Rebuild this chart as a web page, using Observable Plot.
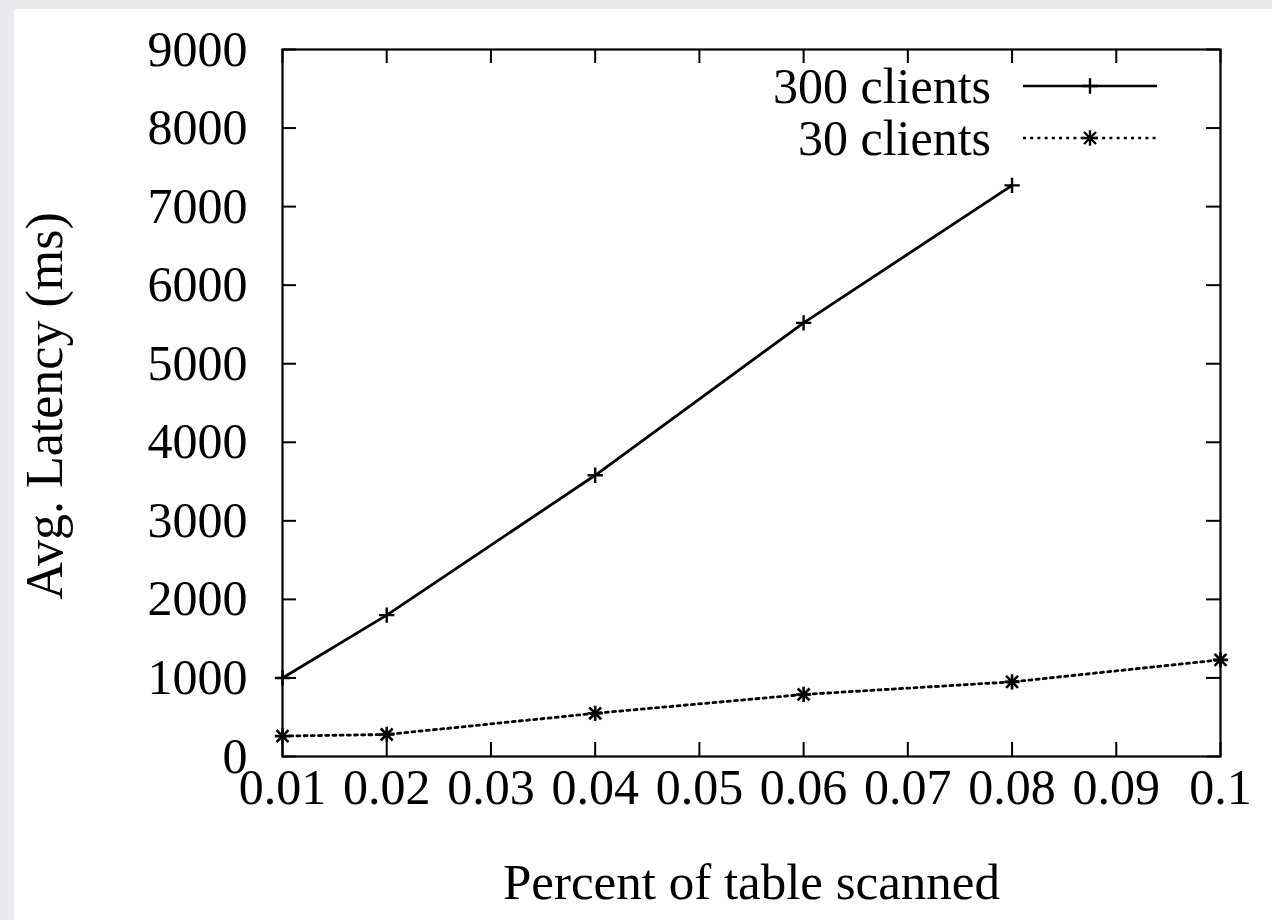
<!DOCTYPE html>
<html><head><meta charset="utf-8">
<script src="https://cdn.jsdelivr.net/npm/d3@7"></script>
<script src="https://cdn.jsdelivr.net/npm/@observablehq/plot@0.6"></script>
<style>
html,body{margin:0;padding:0;background:#e8eaee;width:1272px;height:920px;overflow:hidden;}
#wrap{position:absolute;left:14px;top:9px;width:1258px;height:911px;background:#fff;}
</style></head><body><div id="wrap"></div>
<script>
// ---- data ----
const xTicks = [0.01, 0.02, 0.03, 0.04, 0.05, 0.06, 0.07, 0.08, 0.09, 0.1];
const yTicks = [0, 1000, 2000, 3000, 4000, 5000, 6000, 7000, 8000, 9000];
const pct300 = [0.01, 0.02, 0.04, 0.06, 0.08];
const latency300 = [1000, 1800, 3580, 5520, 7270];
const pct30 = [0.01, 0.02, 0.04, 0.06, 0.08, 0.1];
const latency30 = [260, 280, 550, 790, 950, 1230];
const seriesNames = ["300 clients", "30 clients"];
const xLabel = "Percent of table scanned";
const yLabel = "Avg. Latency (ms)";

const d300 = pct300.map((x, i) => ({x, y: latency300[i]}));
const d30 = pct30.map((x, i) => ({x, y: latency30[i]}));

const W = 1258, H = 911, ML = 268, MR = 52, MT = 40, MB = 164;
const PW = W - ML - MR, PH = H - MT - MB, TK = 14;
const FONT = "Liberation Serif";
const FS = 50;

const chart = Plot.plot({
  width: W, height: H,
  marginLeft: ML, marginRight: MR, marginTop: MT, marginBottom: MB,
  style: {fontFamily: FONT, fontSize: FS + "px", color: "#000", background: "#fff"},
  x: {domain: [0.01, 0.1], ticks: xTicks, tickSize: 0, tickPadding: 12, tickFormat: d => String(d), label: null},
  y: {domain: [0, 9000], ticks: yTicks, tickSize: 0, tickPadding: 35, tickFormat: d => String(d), label: null},
  marks: [
    // inward mirrored ticks
    Plot.tickY(yTicks, {y: d => d, stroke: "#000", strokeWidth: 2, insetRight: PW - TK}),
    Plot.tickY(yTicks, {y: d => d, stroke: "#000", strokeWidth: 2, insetLeft: PW - TK}),
    Plot.tickX(xTicks, {x: d => d, stroke: "#000", strokeWidth: 2, insetTop: PH - TK}),
    Plot.tickX(xTicks, {x: d => d, stroke: "#000", strokeWidth: 2, insetBottom: PH - TK}),
    Plot.frame({stroke: "#000", strokeWidth: 2.2}),
    // series
    Plot.line(d300, {x: "x", y: "y", stroke: "#000", strokeWidth: 2.8}),
    Plot.dot(d300, {x: "x", y: "y", symbol: "plus", r: 5, stroke: "#000", strokeWidth: 2.4}),
    Plot.line(d30, {x: "x", y: "y", stroke: "#000", strokeWidth: 2.8, strokeDasharray: "3,4.2"}),
    Plot.dot(d30, {x: "x", y: "y", symbol: "plus", r: 5, stroke: "#000", strokeWidth: 2.6}),
    Plot.dot(d30, {x: "x", y: "y", symbol: "times", r: 5.5, stroke: "#000", strokeWidth: 2.6}),
    // x axis title
    Plot.text([xLabel], {text: d => d, frameAnchor: "bottom", dy: 142, fontSize: 51, fill: "#000"})
  ]
});

document.getElementById("wrap").appendChild(chart);

const svg = d3.select(chart);

// ---- y axis title ----
svg.append("text")
  .attr("transform", "translate(48,397) rotate(-90)")
  .attr("text-anchor", "middle")
  .attr("font-family", FONT).attr("font-size", 52).attr("fill", "#000")
  .text(yLabel);

// ---- legend ----
const lg = svg.append("g").attr("font-family", FONT).attr("font-size", 50);
const legendRows = [
  {name: seriesNames[0], dash: null, syms: [[d3.symbolPlus, Math.PI * 25]]},
  {name: seriesNames[1], dash: "3,4.2", syms: [[d3.symbolPlus, Math.PI * 25], [d3.symbolTimes, Math.PI * 30.25]]}
];
const rowY = [77, 129];
legendRows.forEach((row, i) => {
  const y = rowY[i];
  lg.append("text").attr("x", 977).attr("y", y + 17).attr("text-anchor", "end").attr("fill", "#000").text(row.name);
  lg.append("line").attr("x1", 1009).attr("x2", 1143).attr("y1", y).attr("y2", y)
    .attr("stroke", "#000").attr("stroke-width", 2.6).attr("stroke-dasharray", row.dash);
  row.syms.forEach(([type, size]) => {
    lg.append("path").attr("d", d3.symbol(type, size)()).attr("transform", `translate(1076,${y})`)
      .attr("fill", "none").attr("stroke", "#000").attr("stroke-width", 2.4);
  });
});
</script>
</body></html>
